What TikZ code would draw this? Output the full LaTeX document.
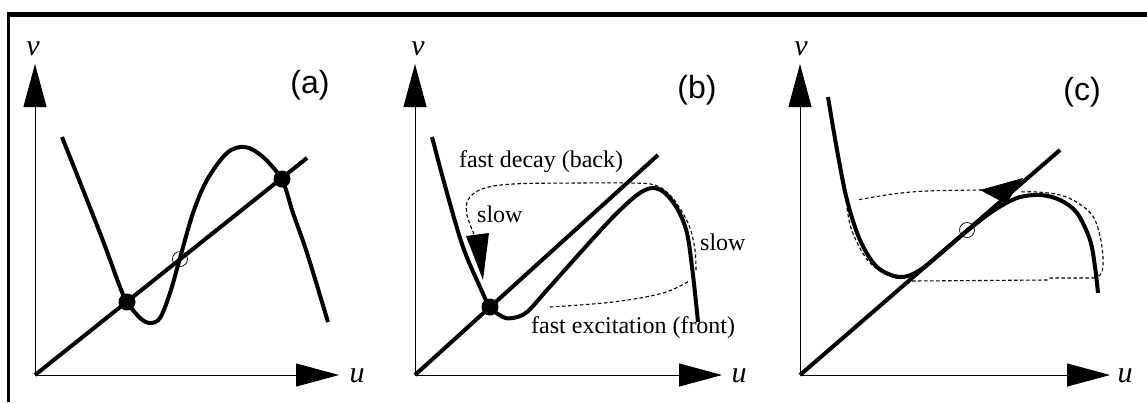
\documentclass[tikz,border=0pt]{standalone}
\usepackage{fontspec}
\setmainfont{Liberation Serif}
\newfontfamily\lsans{Liberation Sans}
\usetikzlibrary{arrows.meta}
\begin{document}
\begin{tikzpicture}[x=1pt,y=-1pt,
  thickc/.style={line width=4pt, line join=round},
  axisl/.style={line width=0.9pt, -{Triangle[length=43pt,width=23pt]}},
  dashc/.style={line width=1.1pt, dash pattern=on 3.5pt off 2.5pt},
  fixd/.style={circle, fill=black, inner sep=0pt, minimum size=17pt},
  opend/.style={circle, draw=black, line width=0.7pt, inner sep=0pt, minimum size=15pt},
  axlab/.style={font=\fontsize{30}{32}\selectfont\itshape, anchor=base, inner sep=0pt},
  panlab/.style={font=\lsans\fontsize{32}{36}\selectfont, inner sep=0pt},
  txt/.style={font=\fontsize{24}{26}\selectfont, anchor=base west, inner sep=0pt}
]
\useasboundingbox (0,0) rectangle (1147,402);
\fill[white] (0,0) rectangle (1147,402);
% frame
\draw[line width=3pt] (8.5,402) -- (8.5,12);
\draw[line width=5pt] (7,14.5) -- (1147,14.5);

% ---------------- panel (a)
\coordinate (Oa) at (35,375);
\coordinate (Ua) at (339,375);
\coordinate (Va) at (35,64);
\coordinate (La) at (307,158);
\draw[axisl] (Oa) -- (Ua);
\draw[axisl] (Oa) -- (Va);
\node[axlab] (va) at (33,55) {v};
\node[axlab] (ua) at (357,382) {u};
\node[panlab] (pa) at (310,85) {(a)};
\draw[thickc] (Oa) -- (La);
\draw[thickc] plot[smooth, tension=0.55] coordinates {
  (62,137) (100,233) (120,287) (127,302) (140,318) (150,323) (160,318)
  (170,293) (180,258) (193,213) (207,180) (227,153) (245,147) (263,157)
  (282,180) (293,213) (307,253) (328,322)};
\node[fixd] (a1) at (127,302) {};
\node[fixd] (a3) at (282,179) {};
\node[opend] (a2) at (180,259) {};

% ---------------- panel (b)
\coordinate (Ob) at (415,375);
\coordinate (Ub) at (722,375);
\coordinate (Vb) at (415,64);
\coordinate (Lb) at (658,155);
\draw[axisl] (Ob) -- (Ub);
\draw[axisl] (Ob) -- (Vb);
\node[axlab] (vb) at (418,55) {v};
\node[axlab] (ub) at (739,382) {u};
\node[panlab] (pb) at (697,90) {(b)};
\draw[thickc] (Ob) -- (Lb);
\draw[thickc] plot[smooth, tension=0.55] coordinates {
  (432,137) (447,193) (463,247) (480,287) (490,307) (503,317) (513,318)
  (527,312) (547,290) (580,253) (613,217) (637,195) (652,188) (665,193)
  (678,210) (687,233) (692,267) (695,293) (698,322)};
\node[fixd] (b1) at (490,307) {};
\draw[dashc] plot[smooth, tension=0.6] coordinates {
  (550,307) (613,302) (663,293) (689,281)};
\draw[dashc] plot[smooth, tension=0.6] coordinates {
  (696,270) (695,250) (690,228) (681,210) (670,195) (655,185) (630,183)
  (580,183) (513,184) (482,189) (468,200) (467,215) (474,234)};
\fill (466,236) -- (489,233) -- (483,280) -- cycle;
\node[txt] (t1) at (459,167) {fast decay (back)};
\node[txt] (t2) at (477,222) {slow};
\node[txt] (t3) at (700,250) {slow};
\node[txt] (t4) at (531,333) {fast excitation (front)};

% ---------------- panel (c)
\coordinate (Oc) at (800,375);
\coordinate (Uc) at (1110,375);
\coordinate (Vc) at (800,64);
\coordinate (Lc) at (1060,150);
\draw[axisl] (Oc) -- (Uc);
\draw[axisl] (Oc) -- (Vc);
\node[axlab] (vc) at (801,55) {v};
\node[axlab] (uc) at (1125,382) {u};
\node[panlab] (pc) at (1082,92) {(c)};
\draw[thickc] (Oc) -- (Lc);
\draw[thickc] plot[smooth, tension=0.55] coordinates {
  (828,97) (837,150) (847,200) (860,240) (877,267) (900,277) (920,270)
  (947,248) (967,231) (993,211) (1017,198) (1040,195) (1060,200)
  (1077,213) (1090,240) (1095,267) (1098,293)};
\node[opend] (c1) at (967,230) {};
\draw[dashc] plot[smooth, tension=0.6] coordinates {
  (982,190) (927,191) (893,194) (857,200)};
\draw[dashc] plot[smooth, tension=0.6] coordinates {
  (847,208) (852,231) (866,258) (883,273) (900,279)};
\draw[dashc] (912,281) -- (1047,280) -- (1050,278) -- (1093,278);
\draw[dashc] plot[smooth, tension=0.6] coordinates {
  (1093,278) (1102,272) (1102,247) (1094,218) (1078,203) (1060,195) (1037,192) (1020,192)};
\fill (980,190) -- (1023,178) -- (1006,204) -- cycle;
\end{tikzpicture}
\end{document}
